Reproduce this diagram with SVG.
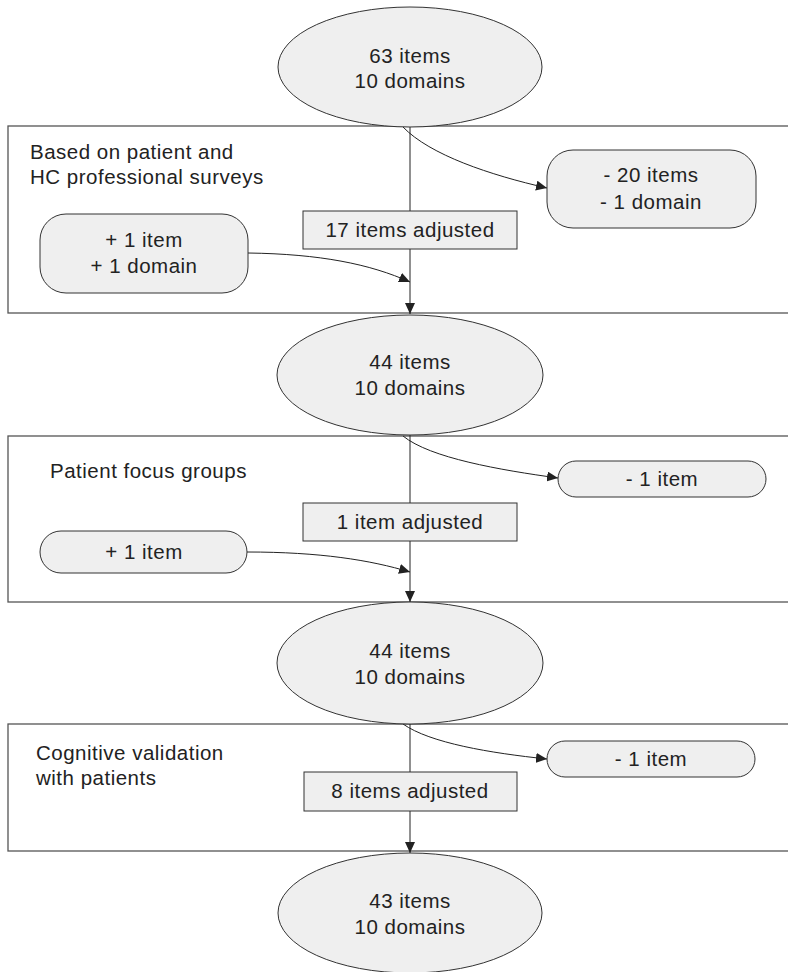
<svg xmlns="http://www.w3.org/2000/svg" width="788" height="972" viewBox="0 0 788 972">
<defs>
<marker id="arr" markerUnits="userSpaceOnUse" markerWidth="12" markerHeight="10" refX="11" refY="5" orient="auto">
<path d="M0,0 L11,5 L0,10 Z" fill="#222"/>
</marker>
<style>
text{font-family:"Liberation Sans",Arial,sans-serif;font-size:20.5px;letter-spacing:0.5px;fill:#222}
.c{text-anchor:middle}
.frame{fill:#fff;stroke:#555;stroke-width:1.3}
.node{fill:#efefef;stroke:#333;stroke-width:1}
.edge{fill:none;stroke:#222;stroke-width:1}
</style>
</defs>
<rect width="788" height="972" fill="#fff"/>
<g id="frames">
<rect id="stage1" class="frame" x="8" y="126" width="792" height="187"/>
<rect id="stage2" class="frame" x="8" y="436" width="792" height="166"/>
<rect id="stage3" class="frame" x="8" y="724" width="792" height="127"/>
<text x="30" y="159">Based on patient and</text>
<text x="30" y="184">HC professional surveys</text>
<text x="50" y="478">Patient focus groups</text>
<text x="36" y="760">Cognitive validation</text>
<text x="36" y="785">with patients</text>
</g>
<g id="connectors">
<line class="edge" x1="410" y1="127" x2="410" y2="314" marker-end="url(#arr)"/>
<line class="edge" x1="410" y1="435" x2="410" y2="602" marker-end="url(#arr)"/>
<line class="edge" x1="410" y1="724" x2="410" y2="853" marker-end="url(#arr)"/>
<path class="edge" d="M403,127 C430,155 490,175 547,188" marker-end="url(#arr)"/>
<path class="edge" d="M248,253 C320,254 370,264 410,282" marker-end="url(#arr)"/>
<path class="edge" d="M403,436 C430,458 500,470 558,478" marker-end="url(#arr)"/>
<path class="edge" d="M247,552 C320,552 370,560 410,572" marker-end="url(#arr)"/>
<path class="edge" d="M403,724 C430,743 490,753 547,759" marker-end="url(#arr)"/>
</g>
<g id="n63">
<ellipse class="node" cx="410" cy="67" rx="132" ry="60"/>
<text class="c" x="410" y="63">63 items</text>
<text class="c" x="410" y="88">10 domains</text>
</g>
<g id="minus20">
<rect class="node" x="547" y="150" width="209" height="78" rx="26"/>
<text class="c" x="651" y="182">- 20 items</text>
<text class="c" x="651" y="209">- 1 domain</text>
</g>
<g id="adj17">
<rect class="node" x="303" y="211" width="214" height="38"/>
<text class="c" x="410" y="237">17 items adjusted</text>
</g>
<g id="plus1a">
<rect class="node" x="40" y="214" width="208" height="79" rx="26"/>
<text class="c" x="144" y="247">+ 1 item</text>
<text class="c" x="144" y="273">+ 1 domain</text>
</g>
<g id="n44a">
<ellipse class="node" cx="410" cy="375" rx="133" ry="60"/>
<text class="c" x="410" y="369">44 items</text>
<text class="c" x="410" y="395">10 domains</text>
</g>
<g id="minus1a">
<rect class="node" x="558" y="461" width="208" height="36" rx="18"/>
<text class="c" x="662" y="486">- 1 item</text>
</g>
<g id="adj1">
<rect class="node" x="303" y="503" width="214" height="38"/>
<text class="c" x="410" y="529">1 item adjusted</text>
</g>
<g id="plus1b">
<rect class="node" x="40" y="531" width="207" height="42" rx="21"/>
<text class="c" x="144" y="559">+ 1 item</text>
</g>
<g id="n44b">
<ellipse class="node" cx="410" cy="663" rx="133" ry="61"/>
<text class="c" x="410" y="658">44 items</text>
<text class="c" x="410" y="684">10 domains</text>
</g>
<g id="minus1b">
<rect class="node" x="547" y="741" width="208" height="36" rx="18"/>
<text class="c" x="651" y="766">- 1 item</text>
</g>
<g id="adj8">
<rect class="node" x="304" y="772" width="213" height="39"/>
<text class="c" x="410" y="798">8 items adjusted</text>
</g>
<g id="n43">
<ellipse class="node" cx="410" cy="913" rx="132" ry="60"/>
<text class="c" x="410" y="908">43 items</text>
<text class="c" x="410" y="934">10 domains</text>
</g>
</svg>
